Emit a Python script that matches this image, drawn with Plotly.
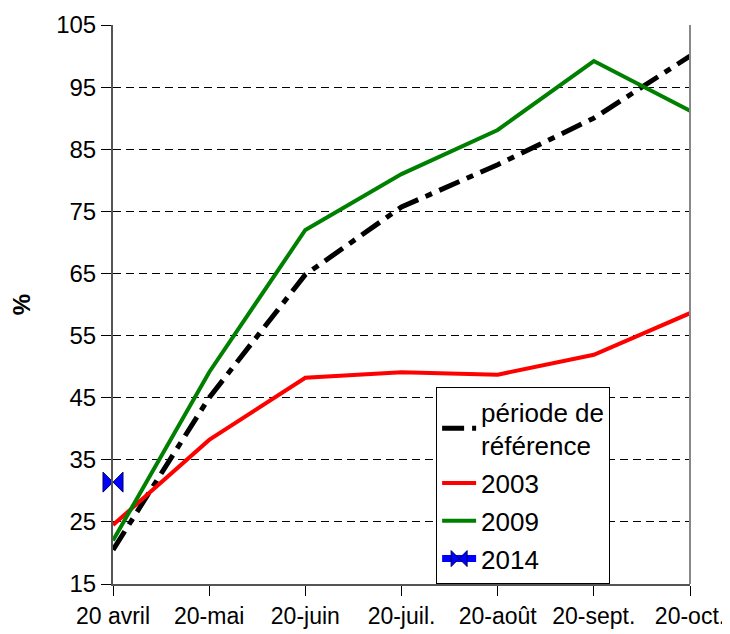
import plotly.graph_objects as go

categories = ["20 avril", "20-mai", "20-juin", "20-juil.", "20-août", "20-sept.", "20-oct."]
reference = [20.5, 45.0, 64.8, 75.7, 82.5, 90.0, 100.0]
y2003 = [24.5, 38.2, 48.2, 49.1, 48.7, 51.9, 58.6]
y2009 = [22.0, 49.1, 72.0, 81.0, 88.1, 99.2, 91.2]
y2014 = [31.4]

xs = list(range(len(categories)))

fig = go.Figure()
fig.add_trace(go.Scatter(x=xs, y=reference, mode="lines", name="période de<br>référence",
                         legendgroup="a",
                         line=dict(color="black", width=5, dash="22px,8px,7px,8px")))
fig.add_trace(go.Scatter(x=xs, y=y2003, mode="lines", name="2003", legendgroup="b",
                         line=dict(color="#ff0000", width=4)))
fig.add_trace(go.Scatter(x=xs, y=y2009, mode="lines", name="2009", legendgroup="c",
                         line=dict(color="#008000", width=4)))
fig.add_trace(go.Scatter(x=xs[:1], y=y2014, mode="lines+markers", name="2014",
                         legendgroup="d", cliponaxis=False,
                         line=dict(color="#0000ff", width=7),
                         marker=dict(symbol="bowtie", size=20, color="#0000ff",
                                     line=dict(color="#000060", width=1))))

fig.add_shape(type="line", xref="paper", yref="paper", x0=1, x1=1, y0=0, y1=1,
              line=dict(color="#888888", width=2))

# page body has an 8px margin; margins chosen so the plot area lands where the reference has it
fig.update_layout(
    width=730, height=626,
    margin=dict(l=105, r=48, t=17, b=50, autoexpand=False),
    paper_bgcolor="white", plot_bgcolor="white",
    font=dict(family="Liberation Sans, Arial", size=24, color="black"),
    showlegend=True,
    legend=dict(x=0.56, y=0.0, xanchor="left", yanchor="bottom",
                bgcolor="white", bordercolor="black", borderwidth=1,
                font=dict(size=26), tracegroupgap=1, itemwidth=34),
)
fig.update_xaxes(range=[0, 6], tickvals=xs, ticktext=categories, automargin=False,
                 ticklabeloverflow="allow",
                 showgrid=False, zeroline=False, showline=True, linecolor="#555",
                 linewidth=2, ticks="outside", ticklen=10, tickcolor="black",
                 tickfont=dict(size=23))
fig.update_yaxes(range=[15, 105], tick0=15, dtick=10, automargin=False,
                 showgrid=True, gridcolor="black", gridwidth=1, griddash="8px,5px",
                 zeroline=False, showline=True, linecolor="#555", linewidth=2,
                 ticks="outside", ticklen=10, tickcolor="black",
                 tickfont=dict(size=24),
                 title=dict(text="<b>%</b>", font=dict(size=24), standoff=19))

fig.write_html("out.html")
